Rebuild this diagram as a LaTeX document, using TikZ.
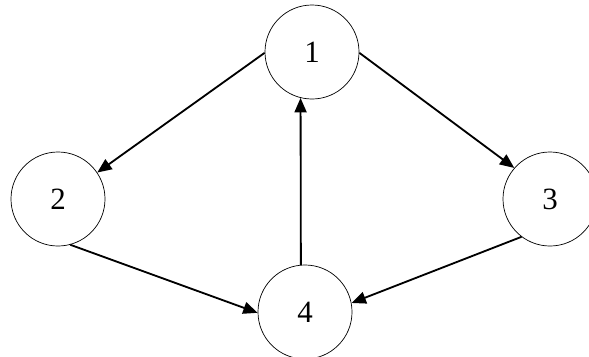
\documentclass[tikz,border=0pt]{standalone}
\usepackage{fontspec}
\setmainfont{Liberation Serif}
\usetikzlibrary{arrows.meta}
\begin{document}
\begin{tikzpicture}[
        x=0.025cm, y=-0.025cm,
        every node/.style={circle, draw, line width=0.5pt, minimum size=2.35cm, inner sep=0pt, font=\fontsize{22}{26}\selectfont},
        arc/.style={line width=1.3pt, -{Triangle[length=0.36cm, width=0.3cm]}}
    ]
        \useasboundingbox (0,0) rectangle (589,356);

        % Vẽ các đỉnh
        \node (n1) at (312,52) {1};
        \node (n2) at (58,199) {2};
        \node (n3) at (550,199) {3};
        \node (n4) at (305,312) {4};

        % Vẽ các cung
        \draw[arc] (n1.181) -- (n2.34);
        \draw[arc] (n1.359) -- (n3.139);
        \draw[arc] (n2.285) -- (n4.181);
        \draw[arc] (n3.233) -- (n4.11);
        \draw[arc] (n4.95) -- (n1.256);
    \end{tikzpicture}
\end{document}
